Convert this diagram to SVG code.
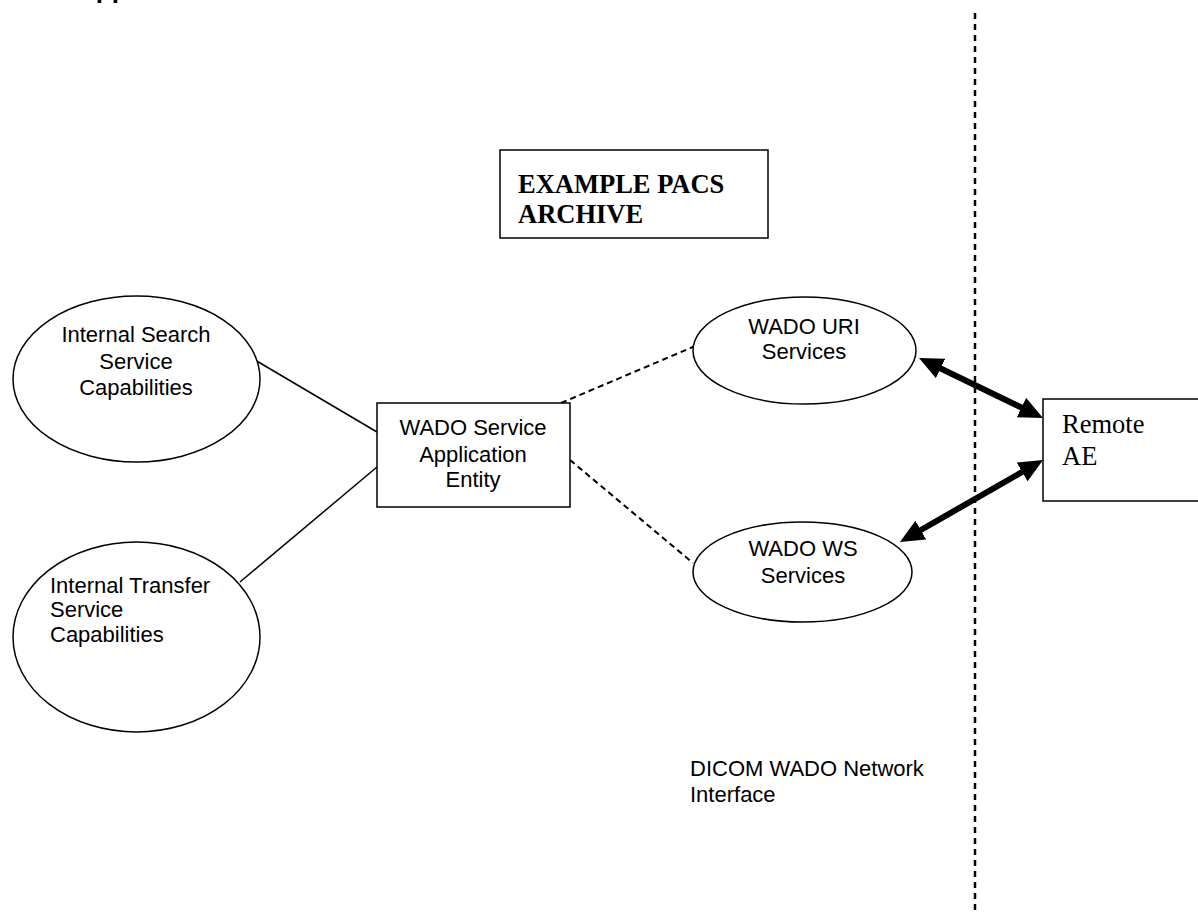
<svg xmlns="http://www.w3.org/2000/svg" width="1198" height="912" viewBox="0 0 1198 912">
<style>
.shape{fill:#fff;stroke:#000;stroke-width:1.5}
.sans{font-family:"Liberation Sans",Arial,sans-serif;font-size:22px;fill:#000}
.serif{font-family:"Liberation Serif","Times New Roman",serif;font-size:26.5px;fill:#000}
.solid{stroke:#000;stroke-width:1.5;fill:none}
.dash{stroke:#000;stroke-width:2;stroke-dasharray:6 4;fill:none}
.thick{stroke:#000;stroke-width:6;fill:none;marker-start:url(#ah);marker-end:url(#ah)}
</style>
<defs>
<marker id="ah" markerWidth="4" markerHeight="3.6" refX="2" refY="1.8" orient="auto-start-reverse" markerUnits="strokeWidth">
<path d="M0,0 L4,1.8 L0,3.6 z" fill="#000"/>
</marker>
</defs>
<rect width="1198" height="912" fill="#fff"/>
<text x="77" y="-2.5" style="font-family:'Liberation Sans',Arial,sans-serif;font-size:26px;font-weight:bold">Application</text>
<line x1="975" y1="13" x2="975" y2="912" stroke="#000" stroke-width="2.5" stroke-dasharray="6 5"/>
<g id="connectors">
<line class="solid" x1="255" y1="360" x2="377" y2="432"/>
<line class="solid" x1="240" y1="582" x2="377" y2="467"/>
<line class="dash" x1="561" y1="403" x2="707" y2="341"/>
<line class="dash" x1="570" y1="460" x2="693" y2="563"/>
<line class="thick" x1="929.8" y1="363.2" x2="1032.2" y2="412.8"/>
<line class="thick" x1="1032.6" y1="466" x2="910.4" y2="536"/>
</g>
<g id="title">
<rect class="shape" x="500" y="150" width="268" height="88"/>
<text class="serif" x="518" y="193" font-weight="bold">EXAMPLE PACS</text>
<text class="serif" x="518" y="223" font-weight="bold">ARCHIVE</text>
</g>
<g id="search">
<ellipse class="shape" cx="136.5" cy="379" rx="123.5" ry="83"/>
<text class="sans" text-anchor="middle" x="136" y="342">Internal Search</text>
<text class="sans" text-anchor="middle" x="136" y="369">Service</text>
<text class="sans" text-anchor="middle" x="136" y="395">Capabilities</text>
</g>
<g id="transfer">
<ellipse class="shape" cx="136.5" cy="637" rx="123.5" ry="95"/>
<text class="sans" x="50" y="593">Internal Transfer</text>
<text class="sans" x="50" y="617">Service</text>
<text class="sans" x="50" y="642">Capabilities</text>
</g>
<g id="wado-ae">
<rect class="shape" x="377" y="403" width="193" height="104"/>
<text class="sans" text-anchor="middle" x="473" y="435">WADO Service</text>
<text class="sans" text-anchor="middle" x="473" y="462">Application</text>
<text class="sans" text-anchor="middle" x="473" y="487">Entity</text>
</g>
<g id="wado-uri">
<ellipse class="shape" cx="804.5" cy="350.5" rx="111.5" ry="53.5"/>
<text class="sans" text-anchor="middle" x="804" y="334">WADO URI</text>
<text class="sans" text-anchor="middle" x="804" y="359">Services</text>
</g>
<g id="wado-ws">
<ellipse class="shape" cx="802.5" cy="572" rx="109.5" ry="50"/>
<text class="sans" text-anchor="middle" x="803" y="556">WADO WS</text>
<text class="sans" text-anchor="middle" x="803" y="583">Services</text>
</g>
<g id="remote-ae">
<rect class="shape" x="1043" y="399" width="170" height="102"/>
<text class="serif" x="1062" y="433">Remote</text>
<text class="serif" x="1062" y="465">AE</text>
</g>
<g id="interface-label">
<text class="sans" x="690" y="776">DICOM WADO Network</text>
<text class="sans" x="690" y="802">Interface</text>
</g>
</svg>
